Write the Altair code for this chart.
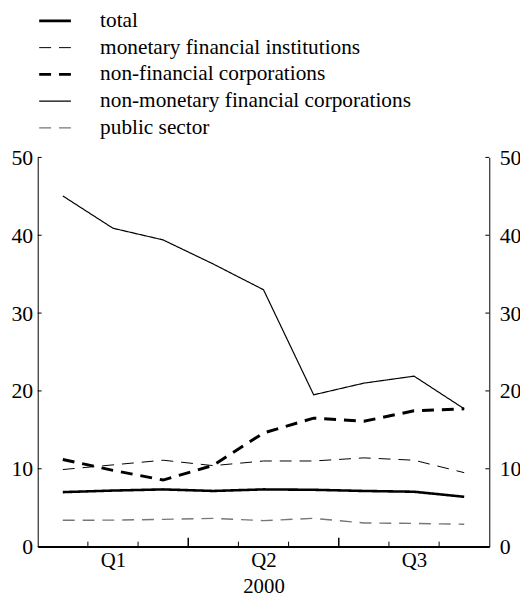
import altair as alt
import pandas as pd

months = [0.5, 1.5, 2.5, 3.5, 4.5, 5.5, 6.5, 7.5, 8.5]
series_names = [
    "total",
    "monetary financial institutions",
    "non-financial corporations",
    "non-monetary financial corporations",
    "public sector",
]
total = [7.0, 7.2, 7.35, 7.15, 7.35, 7.3, 7.15, 7.05, 6.4]
mfi = [9.9, 10.5, 11.1, 10.4, 11.0, 11.0, 11.4, 11.1, 9.5]
nfc = [11.2, 9.8, 8.55, 10.45, 14.6, 16.5, 16.1, 17.45, 17.7]
nmfc = [45.05, 40.9, 39.4, 36.3, 33.0, 19.5, 21.0, 21.9, 17.7]
public = [3.38, 3.4, 3.5, 3.63, 3.34, 3.63, 3.04, 2.98, 2.87]

quarter_pos = [1.5, 4.5, 7.5]
quarter_labels = ["Q1", "Q2", "Q3"]
minor_bounds = [1, 2, 4, 5, 7, 8]
major_bounds = [3, 6]
y_ticks = [0, 10, 20, 30, 40, 50]

rows = []
for name, vals in zip(series_names, [total, mfi, nfc, nmfc, public]):
    for m, v in zip(months, vals):
        rows.append({"m": m, "v": v, "s": name})
df = pd.DataFrame(rows)

W, H = 456, 393
FONT = "Liberation Serif"

label_expr = " : ".join(
    f"datum.value == {p} ? '{l}'" for p, l in zip(quarter_pos, quarter_labels)
) + " : ''"
xaxis = alt.Axis(values=quarter_pos, labelExpr=label_expr,
                 ticks=False, grid=False, title="2000", domainWidth=2, domainColor="black",
                 labelFont=FONT, labelFontSize=21, labelColor="black", labelPadding=3,
                 titleFont=FONT, titleFontSize=21, titleFontWeight="normal", titleColor="black",
                 titlePadding=5)
xscale = alt.Scale(domain=[0, 9], nice=False, zero=False)
yscale = alt.Scale(domain=[0, 50], nice=False)


def yaxis(orient, pad):
    return alt.Axis(orient=orient, values=y_ticks, ticks=False, grid=False, title=None,
                    domainColor="black", domainWidth=1,
                    labelFont=FONT, labelFontSize=22, labelColor="black", labelPadding=pad)


lines = alt.Chart(df).mark_line().encode(
    x=alt.X("m:Q", scale=xscale, axis=xaxis),
    y=alt.Y("v:Q", scale=yscale, axis=yaxis("left", 5)),
    color=alt.Color("s:N", sort=series_names, title=None,
                    scale=alt.Scale(domain=series_names,
                                    range=["black", "black", "black", "black", "#777777"])),
    strokeDash=alt.StrokeDash("s:N", sort=series_names, title=None,
                              scale=alt.Scale(type="ordinal", domain=series_names,
                                              range=[[1, 0], [12, 8], [12, 8], [1, 0], [12, 8]])),
    strokeWidth=alt.StrokeWidth("s:N", sort=series_names, title=None,
                                scale=alt.Scale(type="ordinal", domain=series_names,
                                                range=[2.6, 1.0, 3.0, 1.2, 1.4])),
)

ydf = pd.DataFrame({"v": y_ticks})
ytl = alt.Chart(ydf).mark_rule(color="black", strokeWidth=1).encode(
    y=alt.Y("v:Q", scale=yscale, axis=None),
    x=alt.value(0), x2=alt.value(4),
)
ytr = alt.Chart(ydf).mark_rule(color="black", strokeWidth=1).encode(
    y=alt.Y("v:Q", scale=yscale, axis=yaxis("right", 10)),
    x=alt.value(W), x2=alt.value(W - 4),
)

xmin = alt.Chart(pd.DataFrame({"m": minor_bounds})).mark_rule(color="black", strokeWidth=1).encode(
    x=alt.X("m:Q", scale=xscale, axis=xaxis),
    y=alt.value(H), y2=alt.value(H - 5),
)
xmaj = alt.Chart(pd.DataFrame({"m": major_bounds})).mark_rule(color="black", strokeWidth=1.5).encode(
    x=alt.X("m:Q", scale=xscale, axis=xaxis),
    y=alt.value(H), y2=alt.value(H - 9),
)

chart = alt.layer(lines, ytl, ytr, xmin, xmaj).resolve_scale(y="shared").resolve_axis(y="independent").properties(
    width=W, height=H,
    autosize=alt.AutoSizeParams(type="none"),
    padding={"left": 30, "top": 148, "right": 31, "bottom": 47},
).configure_view(stroke=None).configure_legend(
    orient="none", legendX=0, legendY=-151, padding=0,
    symbolType="stroke", symbolSize=1024, labelFont=FONT, labelFontSize=21.5,
    labelColor="black", labelOffset=28, rowPadding=0, labelLimit=0, clipHeight=26.3,
    symbolStrokeColor="black",
)

chart.save("out.html", embed_options={"renderer": "svg", "actions": False})
